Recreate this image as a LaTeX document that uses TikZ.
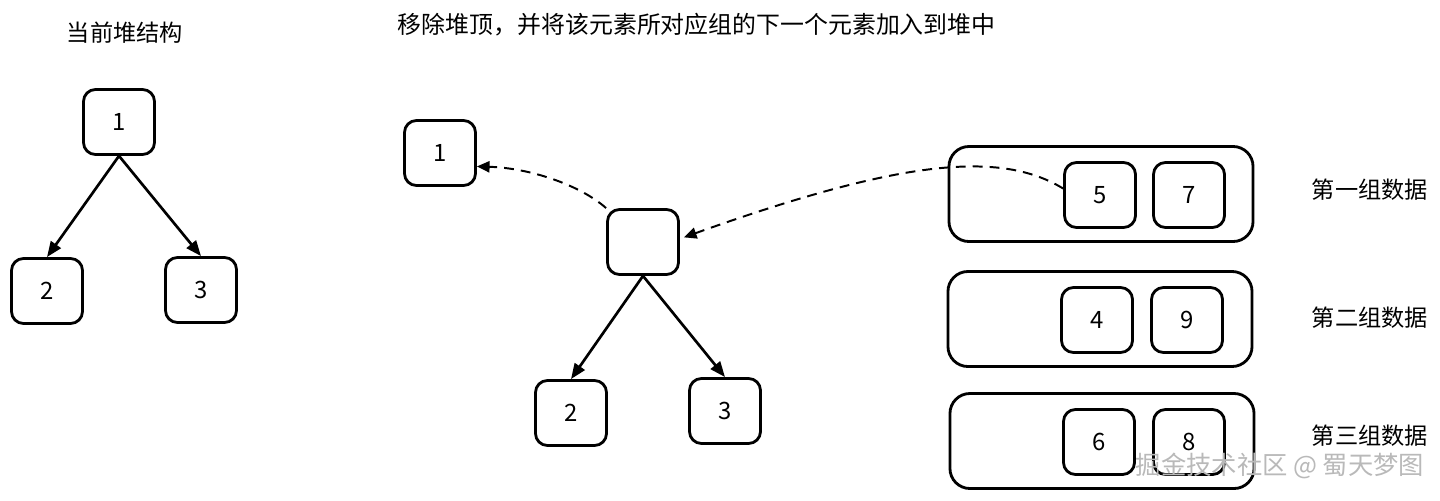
\documentclass[tikz,border=0pt]{standalone}
\usepackage{fontspec}
\setmainfont{Noto Sans CJK SC}
\usepackage{tikz}
\usetikzlibrary{arrows.meta}

\begin{document}
\begin{tikzpicture}[x=0.025cm, y=-0.025cm,
  cell/.style={draw, line width=2pt, rounded corners=0.3cm, fill=white,
    minimum width=1.775cm, minimum height=1.625cm, font=\fontsize{17}{19}\selectfont},
  grp/.style={draw, line width=2pt, rounded corners=0.5cm,
    minimum width=7.6cm, minimum height=2.375cm},
  title/.style={font=\fontsize{16.5}{20}\selectfont},
  arr/.style={line width=1.9pt, -{Triangle[length=11pt,width=8.5pt]}},
  dasharr/.style={line width=1.4pt, dash pattern=on 7pt off 5pt,
    -{Triangle[length=9pt,width=8pt]}}]

\useasboundingbox (0,0) rectangle (1440,500);

\node [title] (t1) at (125,33) {当前堆结构};
\node [title, anchor=west, font=\fontsize{17}{20}\selectfont] (t2) at (393,25)
  {移除堆顶，并将该元素所对应组的下一个元素加入到堆中};

\node [cell] (a1) at (119,122) {1};
\node [cell] (a2) at (47,291) {2};
\node [cell] (a3) at (201,290) {3};

\draw [arr] (a1.south) -- (a2.north);
\draw [arr] (a1.south) -- (a3.north);

\node [cell] (b1) at (440,153) {1};
\node [cell] (top) at (643,242) {};
\node [cell] (b2) at (571,413) {2};
\node [cell] (b3) at (725,411) {3};

\draw [arr] (top.south) -- (b2.north);
\draw [arr] (top.south) -- (b3.north);

\node [grp] (g1) at (1101,194) {};
\node [grp] (g2) at (1100,319) {};
\node [grp] (g3) at (1102,441) {};

\node [cell] (n5) at (1100,195) {5};
\node [cell] (n7) at (1189,195) {7};
\node [cell] (n4) at (1097,320) {4};
\node [cell] (n9) at (1187,320) {9};
\node [cell] (n6) at (1099,442) {6};
\node [cell] (n8) at (1189,442) {8};

\node [title, anchor=west] (l1) at (1307,190) {第一组数据};
\node [title, anchor=west] (l2) at (1307,318) {第二组数据};
\node [title, anchor=west] (l3) at (1307,436) {第三组数据};

\draw [dasharr] (top.north west) .. controls (580,185) and (530,168) .. (b1.-20);
\draw [dasharr, shorten >=3pt] (n5.170) .. controls (1000,150) and (900,160) .. (top.5);

\node [text=gray!55, font=\fontsize{18}{20}\selectfont] (wm) at (1280,466)
  {掘金技术社区 @ 蜀天梦图};
\end{tikzpicture}
\end{document}
